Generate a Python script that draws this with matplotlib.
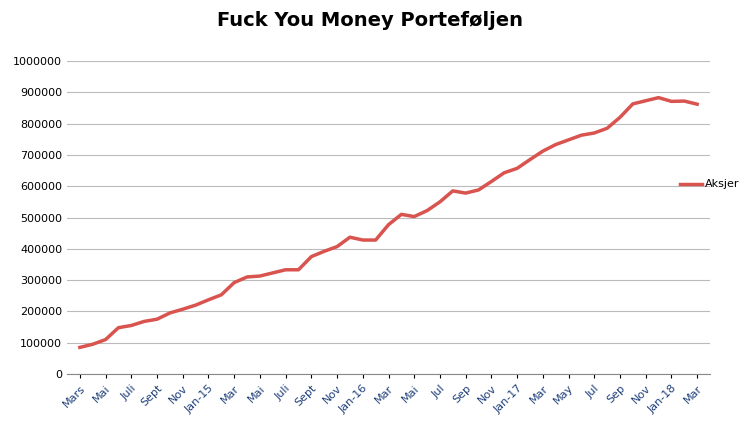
import numpy as np
import matplotlib.pyplot as plt
import matplotlib.ticker as tck

# monthly values, Mar 2014 .. Mar 2018
values = [85000, 95000, 110000, 148000, 155000, 168000, 175000, 195000, 207000, 220000,
          237000, 253000, 292000, 310000, 313000, 323000, 333000, 333000, 375000, 392000,
          407000, 437000, 428000, 428000, 477000, 510000, 503000, 522000, 550000, 585000,
          578000, 588000, 615000, 643000, 657000, 685000, 712000, 733000, 748000, 763000,
          770000, 785000, 820000, 863000, 873000, 883000, 871000, 872000, 862000]
tick_labels = ['Mars', 'Mai', 'Juli', 'Sept', 'Nov', 'Jan-15', 'Mar', 'Mai', 'Juli', 'Sept',
               'Nov', 'Jan-16', 'Mar', 'Mai', 'Jul', 'Sep', 'Nov', 'Jan-17', 'Mar', 'May',
               'Jul', 'Sep', 'Nov', 'Jan-18', 'Mar']

x = np.arange(len(values))

fig = plt.figure(figsize=(7.4, 4.24), dpi=100)
ax = fig.add_axes([67/740, 50/424, 643/740, 313/424])
ax.plot(x, values, color='#d9534f', linewidth=2.5, label='Aksjer')

ax.set_xlim(-1, 49)
ax.set_ylim(0, 1000000)
ax.set_yticks(np.arange(0, 1000001, 100000))
ax.yaxis.set_major_formatter(tck.FormatStrFormatter('%d'))
ax.tick_params(axis='y', labelsize=8, length=0)
ax.set_xticks(x[::2])
ax.set_xticklabels(tick_labels, rotation=45, ha='right', rotation_mode='anchor',
                   fontsize=8, color='#1f3f7a')
ax.tick_params(axis='x', length=3)
ax.grid(axis='y', color='#bbbbbb', linewidth=0.8)
ax.set_axisbelow(True)
for s in ['top', 'right', 'left']:
    ax.spines[s].set_visible(False)
ax.spines['bottom'].set_color('#888888')

fig.suptitle('Fuck You Money Porteføljen', fontsize=14, fontweight='bold', y=0.975)
fig.legend(loc='center left', bbox_to_anchor=(0.905, 0.565), frameon=False, fontsize=8,
           handlelength=2, handletextpad=0.3)

fig.savefig('out.png')
